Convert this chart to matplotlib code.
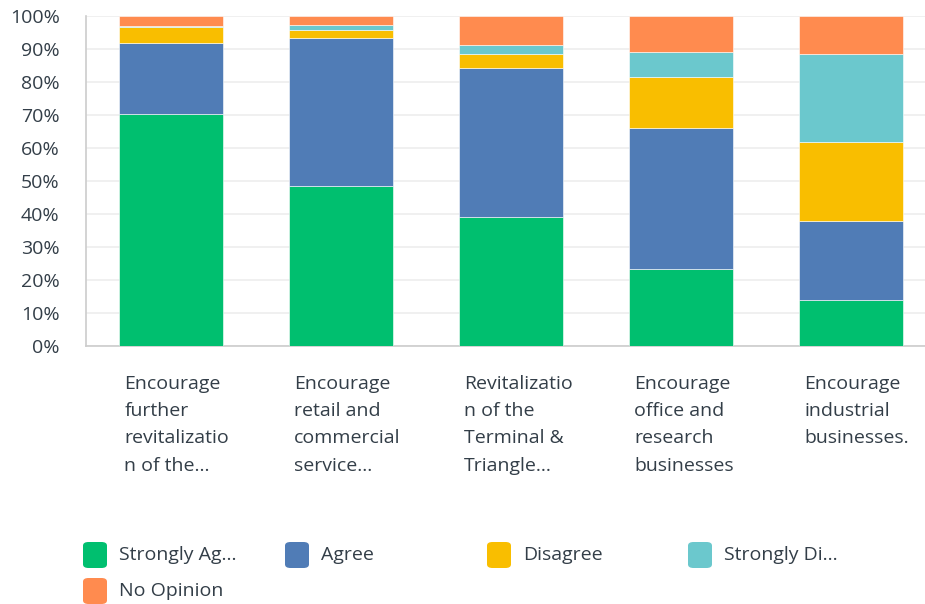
import numpy as np
import matplotlib.pyplot as plt
from matplotlib.patches import FancyBboxPatch
from matplotlib import transforms

plt.rcParams['font.family'] = ['Open Sans', 'DejaVu Sans']

categories = ["Encourage\nfurther\nrevitalizatio\nn of the...",
              "Encourage\nretail and\ncommercial\nservice...",
              "Revitalizatio\nn of the\nTerminal &\nTriangle...",
              "Encourage\noffice and\nresearch\nbusinesses",
              "Encourage\nindustrial\nbusinesses."]
series_names = ["Strongly Ag...", "Agree", "Disagree", "Strongly Di...", "No Opinion"]
strongly_agree = [70.4, 48.5, 39.2, 23.3, 13.8]
agree = [21.3, 44.7, 45.0, 42.9, 24.2]
disagree = [5.0, 2.7, 4.4, 15.4, 23.8]
strongly_disagree = [0.3, 1.5, 2.5, 7.5, 26.8]
no_opinion = [3.0, 2.6, 8.9, 10.9, 11.4]
colors = ['#00bf6f', '#507cb6', '#f9be00', '#6bc8cd', '#ff8b4f']

values = [strongly_agree, agree, disagree, strongly_disagree, no_opinion]
text_col = '#333e48'

fig = plt.figure(figsize=(9.25, 6.04), dpi=100)
ax = fig.add_axes([86/925, (604-346)/604, 850/925, 330/604])

x = np.arange(len(categories))
width = 0.61
bottom = np.zeros(len(categories))
for vals, c in zip(values, colors):
    ax.bar(x, vals, width, bottom=bottom, color=c, edgecolor='white', linewidth=0.4, zorder=3)
    bottom += np.array(vals)

ax.set_xlim(-0.5, 4.5)
ax.set_ylim(0, 100)
ax.set_yticks(np.arange(0, 101, 10))
ax.set_yticklabels([f"{v}%" for v in range(0, 101, 10)])
ax.tick_params(axis='y', length=0, pad=19, labelsize=14, labelcolor=text_col)
ax.set_xticks([])
ax.grid(axis='y', color='#eeeeee', linewidth=1.2, zorder=0)
for s in ['top', 'right']:
    ax.spines[s].set_visible(False)
for s in ['left', 'bottom']:
    ax.spines[s].set_color('#cccccc')
    ax.spines[s].set_linewidth(1.2)

trans = transforms.blended_transform_factory(ax.transData, ax.transAxes)
for i, lab in enumerate(categories):
    ax.text(i - width/2 + 0.03, -0.087, lab, transform=trans, ha='left', va='top',
            fontsize=14, color=text_col, linespacing=1.67)

# legend
leg_x = [83, 285, 487, 688]
leg_rows = [555, 591]
for k, (name, c) in enumerate(zip(series_names, colors)):
    px = leg_x[k % 4]
    py = leg_rows[k // 4]
    box = FancyBboxPatch(((px)/925, (604-py-13)/604), 24/925, 26/604,
                         boxstyle="round,pad=0,rounding_size=0.006",
                         transform=fig.transFigure, facecolor=c, edgecolor='none')
    fig.patches.append(box)
    fig.text((px + 36)/925, (604-py)/604, name, ha='left', va='center',
             fontsize=14, color=text_col)

fig.savefig('out.png', dpi=100)
